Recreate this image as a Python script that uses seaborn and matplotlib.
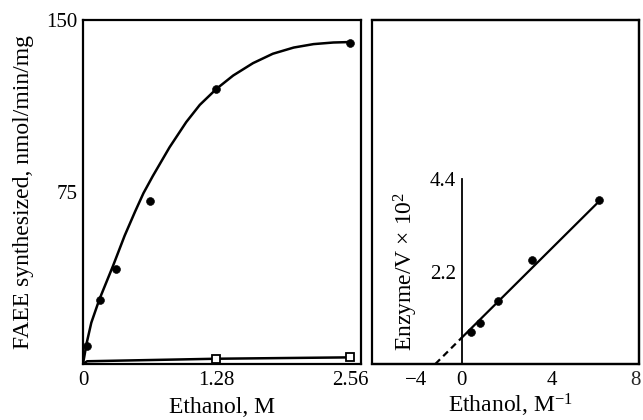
import matplotlib
matplotlib.use("Agg")
import matplotlib.pyplot as plt
from matplotlib.patches import Rectangle
import seaborn as sns

# left panel: FAEE synthesis vs ethanol
conc_pts = [0.04, 0.16, 0.32, 0.64, 1.28, 2.56]
faee_pts = [7.8, 27.8, 41.3, 71.0, 120.0, 140.0]

# fitted curve
curve_x = [0, 0.012, 0.035, 0.08, 0.156, 0.29, 0.40, 0.50, 0.58, 0.67, 0.83,
           0.99, 1.12, 1.28, 1.44, 1.63, 1.82, 2.02, 2.21, 2.40, 2.56]
curve_y = [0, 3.0, 9.0, 18.0, 28.0, 43.0, 56.0, 66.5, 74.5, 82.0, 94.5,
           105.5, 113.0, 120.0, 125.8, 131.2, 135.3, 138.0, 139.5, 140.2, 140.4]

# control (open squares)
ctrl_x = [0, 0.04, 1.28, 2.56]
ctrl_y = [0, 1.2, 2.3, 2.9]

# right panel: double reciprocal plot
inv_conc = [0.4, 0.8, 1.6, 3.1, 6.1]
enz_v = [0.77, 0.97, 1.50, 2.48, 3.90]
fit_x = [0, 6.0]
fit_y = [0.62, 3.82]
extrap_x = [-1.16, 0]
extrap_y = [0, 0.62]

left_ticks = [0, 1.28, 2.56]
left_ticklabels = ['0', '1.28', '2.56']
right_ticks = [-2, 0, 2, 4, 6]
right_ticklabels = ['\u22124', '0', '', '4', '']

sns.set_theme(style="white")
plt.rcParams['font.family'] = ['Liberation Serif', 'DejaVu Serif']
plt.rcParams['mathtext.fontset'] = 'custom'
plt.rcParams['mathtext.rm'] = 'Liberation Serif'
plt.rcParams['mathtext.it'] = 'Liberation Serif:italic'

fs = 15     # tick labels
lfs = 17    # axis labels
fig = plt.figure(figsize=(6.43, 4.2), dpi=100)
ax1 = fig.add_axes([0.129, 0.1333, 0.4324, 0.819])
ax2 = fig.add_axes([0.579, 0.1333, 0.4148, 0.819])

# ---- left panel
sns.lineplot(x=curve_x, y=curve_y, ax=ax1, color='black', lw=1.8, sort=False)
sns.scatterplot(x=conc_pts, y=faee_pts, ax=ax1, color='black', s=32, edgecolor='black', zorder=3)
ax1.plot(ctrl_x, ctrl_y, color='black', lw=1.8, marker='s', markersize=6,
         markerfacecolor='white', markeredgecolor='black', markeredgewidth=1.3,
         markevery=[2, 3], zorder=3)
ax1.set_xlim(0, 2.665)
ax1.set_ylim(0, 150)
ax1.set_xticks(left_ticks)
ax1.set_xticklabels(left_ticklabels)
ax1.set_yticks([75, 150])
ax1.tick_params(axis='x', length=0, pad=5, labelsize=fs, colors='black')
ax1.tick_params(axis='y', direction='in', length=7, width=1.3, pad=4, labelsize=fs, colors='black')
ax1.set_xlabel('Ethanol, M', fontsize=lfs, color='black', va='baseline')
ax1.set_ylabel('FAEE synthesized, nmol/min/mg', fontsize=lfs, color='black')
ax1.xaxis.set_label_coords(0.5, -0.142)
ax1.yaxis.set_label_coords(-0.175, 0.5)
for sp in ax1.spines.values():
    sp.set_color('black')
    sp.set_linewidth(1.6)

# ---- right panel
sns.lineplot(x=fit_x, y=fit_y, ax=ax2, color='black', lw=1.6)
ax2.plot(extrap_x, extrap_y, color='black', lw=1.6, ls=(0, (3, 2)))
sns.scatterplot(x=inv_conc, y=enz_v, ax=ax2, color='black', s=32, edgecolor='black', zorder=3)
ax2.set_xlim(-3.95, 7.86)
ax2.set_ylim(0, 8.18)
ax2.spines['left'].set_position(('data', 0))
ax2.spines['left'].set_bounds(0, 4.4)
ax2.spines['left'].set_linewidth(1.3)
for name in ['top', 'right', 'bottom']:
    ax2.spines[name].set_linewidth(1.6)
for sp in ax2.spines.values():
    sp.set_color('black')
ax2.add_patch(Rectangle((0, 0), 1, 1, transform=ax2.transAxes, fill=False,
                        edgecolor='black', lw=1.6, clip_on=False))
ax2.set_xticks(right_ticks)
ax2.set_xticklabels(right_ticklabels)
ax2.set_yticks([2.2, 4.4])
ax2.set_yticklabels(['2.2', '4.4'])
ax2.tick_params(axis='x', direction='in', length=6, width=1.3, pad=5, labelsize=fs, colors='black')
ax2.tick_params(axis='y', direction='in', length=8, width=1.3, pad=4, labelsize=fs, colors='black')
ax2.annotate('8', xy=(7.72, 0), xycoords=('data', 'axes fraction'), xytext=(0, -5),
             textcoords='offset points', ha='center', va='top', fontsize=fs,
             annotation_clip=False)
ax2.set_xlabel('Ethanol, M$^{\\mathrm{-1}}$', fontsize=lfs, color='black', va='baseline')
ax2.xaxis.set_label_coords(0.52, -0.142)
ax2.set_ylabel('Enzyme/V \u00d7 10$^{\\mathrm{2}}$', fontsize=lfs, color='black')
ax2.yaxis.set_label_coords(0.18, 0.27)

fig.savefig('out.png', dpi=100)
